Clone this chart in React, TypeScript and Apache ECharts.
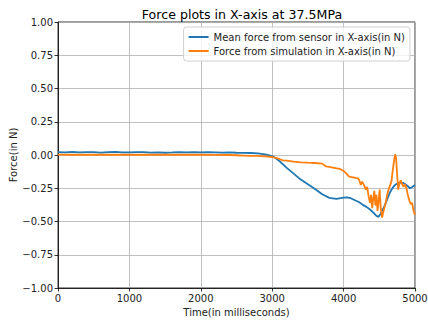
import React, { useEffect, useRef } from "react";
import * as echarts from "echarts";

// Mean sensor force (X-axis), sampled times in ms
const sensorTime = [
  0, 100, 200, 300, 400, 500, 600, 700, 800, 900, 1000, 1100, 1200, 1300, 1400,
  1500, 1600, 1700, 1800, 1900, 2000, 2100, 2200, 2300, 2400, 2500, 2600, 2700,
  2800, 2900, 3000, 3050, 3100, 3200, 3300, 3400, 3500, 3600, 3700, 3800, 3900,
  4000, 4050, 4100, 4160, 4220, 4270, 4320, 4370, 4420, 4460, 4490, 4510, 4540,
  4580, 4620, 4650, 4690, 4720, 4760, 4790, 4830, 4860, 4900, 4930, 4960, 5000,
];
const sensorForce = [
  0.022, 0.02, 0.023, 0.019, 0.021, 0.022, 0.018, 0.021, 0.023, 0.02, 0.019,
  0.022, 0.021, 0.018, 0.02, 0.017, 0.019, 0.022, 0.02, 0.021, 0.019, 0.022,
  0.02, 0.018, 0.02, 0.017, 0.016, 0.015, 0.012, 0.005, -0.008, -0.025, -0.045,
  -0.095, -0.14, -0.185, -0.22, -0.255, -0.295, -0.322, -0.33, -0.32, -0.318,
  -0.325, -0.34, -0.355, -0.375, -0.39, -0.41, -0.435, -0.458, -0.465, -0.45,
  -0.42, -0.375, -0.32, -0.28, -0.245, -0.225, -0.212, -0.208, -0.21, -0.218,
  -0.235, -0.25, -0.24, -0.225,
];

// Simulated force (X-axis), sampled times in ms
const simTime = [
  0, 200, 400, 600, 800, 1000, 1200, 1400, 1600, 1800, 2000, 2200, 2400, 2500,
  2600, 2700, 2800, 2900, 3000, 3100, 3150, 3200, 3300, 3400, 3500, 3600, 3700,
  3750, 3800, 3850, 3900, 3950, 4000, 4040, 4070, 4100, 4150, 4200, 4220, 4240,
  4260, 4290, 4310, 4330, 4350, 4370, 4385, 4400, 4415, 4430, 4445, 4460, 4475,
  4490, 4505, 4520, 4540, 4555, 4570, 4590, 4610, 4630, 4650, 4670, 4690, 4705,
  4720, 4735, 4750, 4765, 4780, 4800, 4820, 4840, 4860, 4880, 4900, 4920, 4940,
  4960, 4980, 5000,
];
const simForce = [
  0.003, 0.002, 0.003, 0.002, 0.002, 0.003, 0.002, 0.002, 0.003, 0.002, 0.002,
  0.001, 0.0, -0.002, -0.004, -0.006, -0.006, -0.01, -0.015, -0.03, -0.04,
  -0.042, -0.05, -0.055, -0.058, -0.06, -0.065, -0.085, -0.09, -0.095, -0.1,
  -0.105, -0.12, -0.14, -0.16, -0.165, -0.17, -0.175, -0.19, -0.225, -0.2,
  -0.23, -0.26, -0.24, -0.31, -0.36, -0.3, -0.4, -0.33, -0.27, -0.38, -0.3,
  -0.42, -0.35, -0.26, -0.4, -0.47, -0.43, -0.4, -0.36, -0.3, -0.26, -0.23,
  -0.2, -0.11, -0.05, 0.005, -0.02, -0.15, -0.26, -0.22, -0.19, -0.22, -0.24,
  -0.22, -0.25, -0.3, -0.34, -0.37, -0.36, -0.42, -0.45,
];

const seriesNames = [
  "Mean force from sensor in X-axis(in N)",
  "Force from simulation in X-axis(in N)",
];
const chartTitle = "Force plots in X-axis at 37.5MPa";
const xAxisTitle = "Time(in milliseconds)";
const yAxisTitle = "Force(in N)";

const FONT = "DejaVu Sans";

const toPairs = (xs: number[], ys: number[]) => xs.map((x, i) => [x, ys[i]]);

export default function App() {
  const ref = useRef<HTMLDivElement>(null);

  useEffect(() => {
    if (!ref.current) return;
    const chart = echarts.init(ref.current, null, { renderer: "svg" });
    const axisText = { color: "#222", fontSize: 10, fontFamily: FONT };
    chart.setOption({
      animation: false,
      backgroundColor: "#fff",
      textStyle: { fontFamily: FONT },
      title: {
        text: chartTitle,
        left: 237,
        top: 3,
        textAlign: "center",
        textStyle: { fontSize: 12.6, fontWeight: "normal", color: "#000", fontFamily: FONT },
      },
      legend: {
        data: seriesNames,
        orient: "vertical",
        right: 18,
        top: 27,
        icon: "rect",
        itemWidth: 20,
        itemHeight: 2,
        itemGap: 4,
        padding: [5, 5, 5, 5],
        borderColor: "#d0d0d0",
        borderWidth: 1,
        borderRadius: 3,
        backgroundColor: "rgba(255,255,255,0.8)",
        textStyle: { fontSize: 10, color: "#222", fontFamily: FONT },
      },
      grid: {
        left: 58,
        right: 13,
        top: 22,
        bottom: 36,
        containLabel: false,
        outerBoundsMode: "none",
        show: true,
        borderColor: "#000",
        borderWidth: 0.8,
      },
      xAxis: {
        type: "value",
        min: 0,
        max: 5000,
        interval: 1000,
        name: xAxisTitle,
        nameLocation: "middle",
        nameGap: 19,
        nameMoveOverlap: false,
        nameTextStyle: { fontSize: 10, color: "#222", fontFamily: FONT },
        axisLine: { show: true, onZero: false, lineStyle: { color: "#000", width: 0.8 } },
        axisTick: { show: true, length: 3.5, lineStyle: { color: "#000", width: 0.8 } },
        axisLabel: { ...axisText, margin: 5, formatter: (v: number) => String(v) },
        splitLine: { show: true, lineStyle: { color: "#b0b0b0", width: 0.8 } },
      },
      yAxis: {
        type: "value",
        min: -1,
        max: 1,
        interval: 0.25,
        name: yAxisTitle,
        nameLocation: "middle",
        nameGap: 40,
        nameMoveOverlap: false,
        nameRotate: 90,
        nameTextStyle: { fontSize: 10, color: "#222", fontFamily: FONT },
        axisLine: { show: true, onZero: false, lineStyle: { color: "#000", width: 0.8 } },
        axisTick: { show: true, length: 3.5, lineStyle: { color: "#000", width: 0.8 } },
        axisLabel: {
          ...axisText,
          margin: 5,
          formatter: (v: number) => v.toFixed(2).replace("-", "\u2212"),
        },
        splitLine: { show: true, lineStyle: { color: "#b0b0b0", width: 0.8 } },
      },
      series: [
        {
          name: seriesNames[0],
          type: "line",
          data: toPairs(sensorTime, sensorForce),
          showSymbol: false,
          symbol: "none",
          lineStyle: { color: "#1f77b4", width: 1.8 },
          itemStyle: { color: "#1f77b4" },
        },
        {
          name: seriesNames[1],
          type: "line",
          data: toPairs(simTime, simForce),
          showSymbol: false,
          symbol: "none",
          lineStyle: { color: "#ff7f0e", width: 1.8 },
          itemStyle: { color: "#ff7f0e" },
        },
      ],
    });
    return () => chart.dispose();
  }, []);

  return (
    <div
      ref={ref}
      style={{ position: "absolute", left: 0, top: 0, width: 428, height: 324 }}
    />
  );
}
